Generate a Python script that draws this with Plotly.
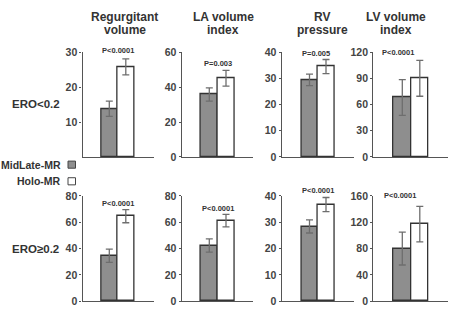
import plotly.graph_objects as go

# ---------------- data ----------------
metric_titles = [["Regurgitant", "volume"], ["LA volume", "index"], ["RV", "pressure"], ["LV volume", "index"]]
groups = ["MidLate-MR", "Holo-MR"]
row_labels = ["ERO<0.2", "ERO≥0.2"]

low_midlate = [13.8, 35.8, 29.4, 68]
low_midlate_err = [2.2, 3.8, 2.2, 20.5]
low_holo = [25.8, 45.1, 34.5, 90]
low_holo_err = [2.3, 4.5, 2.7, 20.5]

high_midlate = [34.5, 42.3, 28.4, 80]
high_midlate_err = [5.0, 5.0, 2.5, 25]
high_holo = [64.6, 61.2, 36.7, 117]
high_holo_err = [5.0, 4.8, 2.7, 27]

low_pvals = ["P<0.0001", "P=0.003", "P=0.005", "P<0.0001"]
high_pvals = ["P<0.0001", "P<0.0001", "P<0.0001", "P<0.0001"]

low_ymax = [30, 60, 40, 120]
low_tickvals = [[10, 20, 30], [0, 20, 40, 60], [0, 10, 20, 30, 40], [0, 30, 60, 90, 120]]
high_ymax = [80, 80, 40, 160]
high_tickvals = [[0, 20, 40, 60, 80], [0, 20, 40, 60, 80], [0, 10, 20, 30, 40], [0, 40, 80, 120, 160]]

# ---------------- layout helpers ----------------
W, H = 450, 312
FONT = "Liberation Sans, Arial, sans-serif"
# panel pixel extents: (axis left, axis right, gray bar centre offset, bar width)
panels_px = [(82.5, 154, 26.8, 16.5), (181.7, 253, 27.6, 16.7), (281.7, 354, 27.8, 16.5), (373.3, 448, 29.0, 17.5)]
rows_px = [(48, 157), (197.5, 307)]
# p-value label positions: (x in bar units, y as fraction of the plot height)
low_p_pos = [(0.5, 1.02), (0.5, 0.89), (0.42, 0.99), (-0.22, 1.0)]
high_p_pos = [(0.5, 0.93), (0.5, 0.885), (0.5, 1.05), (-0.15, 1.0)]
title_px = [124.7, 223, 322, 396]

fig = go.Figure()
layout = dict(width=W, height=H, margin=dict(l=0, r=0, t=0, b=0), autosize=False,
              paper_bgcolor="white", plot_bgcolor="white", showlegend=False,
              font=dict(family=FONT, color="#333"), bargap=0)
annotations = []
shapes = []

rows = [
    (low_midlate, low_midlate_err, low_holo, low_holo_err, low_ymax, low_tickvals, low_pvals, low_p_pos),
    (high_midlate, high_midlate_err, high_holo, high_holo_err, high_ymax, high_tickvals, high_pvals, high_p_pos),
]

idx = 0
for r, (mid, mid_e, holo, holo_e, ymaxs, tvals, pvals, ppos) in enumerate(rows):
    top_px, bot_px = rows_px[r]
    for c in range(4):
        idx += 1
        xl, xr, gc, bw = panels_px[c]
        xa = "x" if idx == 1 else f"x{idx}"
        ya = "y" if idx == 1 else f"y{idx}"
        fig.add_trace(go.Bar(
            x=[0, 1], y=[mid[c], holo[c]], width=[1, 1],
            marker=dict(color=["#8e8e8e", "white"], line=dict(color="#333", width=1.3)),
            error_y=dict(type="data", array=[mid_e[c], holo_e[c]], color="#6e6e6e", thickness=1.3, width=3.5),
            xaxis=xa, yaxis=ya, hoverinfo="skip"))
        x0 = -gc / bw
        x1 = ((xr - xl) - gc) / bw
        layout["xaxis" if idx == 1 else f"xaxis{idx}"] = dict(
            domain=[xl / W, xr / W], range=[x0, x1], anchor=ya,
            showline=True, linecolor="#555", linewidth=1.3, showticklabels=False,
            ticks="", showgrid=False, zeroline=False, fixedrange=True)
        layout["yaxis" if idx == 1 else f"yaxis{idx}"] = dict(
            domain=[1 - bot_px / H, 1 - top_px / H], range=[0, ymaxs[c]], anchor=xa,
            showline=True, linecolor="#555", linewidth=1.3, showgrid=False, zeroline=False,
            tickvals=tvals[c], ticks="outside", ticklen=2, tickcolor="#555", tickwidth=1.2,
            tickfont=dict(family=FONT, size=10.5, color="#444", weight="bold"), fixedrange=True)
        px_, py_ = ppos[c]
        annotations.append(dict(
            x=px_, y=py_, xref=xa, yref=f"{ya} domain", text=pvals[c], showarrow=False,
            font=dict(family=FONT, size=7.5, color="#333", weight="bold"), xanchor="center", yanchor="middle"))

# column titles
for c in range(4):
    for li, (line, ypx) in enumerate(zip(metric_titles[c], [11.5, 24.5])):
        annotations.append(dict(
            x=title_px[c] / W, y=1 - ypx / H, xref="paper", yref="paper", text=line, showarrow=False,
            font=dict(family=FONT, size=12, color="#333", weight="bold"), xanchor="center", yanchor="middle"))

# row labels
for lbl, ypx in zip(row_labels, [102.3, 252.3]):
    annotations.append(dict(
        x=35.5 / W, y=1 - ypx / H, xref="paper", yref="paper", text=lbl, showarrow=False,
        font=dict(family=FONT, size=11.5, color="#333", weight="bold"), xanchor="center", yanchor="middle"))

# legend (text to the left of swatch)
legend_colors = ["#8e8e8e", "white"]
for g, col, ypx in zip(groups, legend_colors, [165.0, 182.3]):
    annotations.append(dict(
        x=63 / W, y=1 - ypx / H, xref="paper", yref="paper", text=g, showarrow=False,
        font=dict(family=FONT, size=10.5, color="#333", weight="bold"), xanchor="right", yanchor="middle"))
    shapes.append(dict(type="rect", xref="paper", yref="paper",
                       x0=68 / W, x1=75.5 / W, y0=1 - (ypx + 3.7) / H, y1=1 - (ypx - 3.7) / H,
                       fillcolor=col, line=dict(color="#444", width=1)))

layout["annotations"] = annotations
layout["shapes"] = shapes
fig.update_layout(**layout)
fig.write_html("out.html")
